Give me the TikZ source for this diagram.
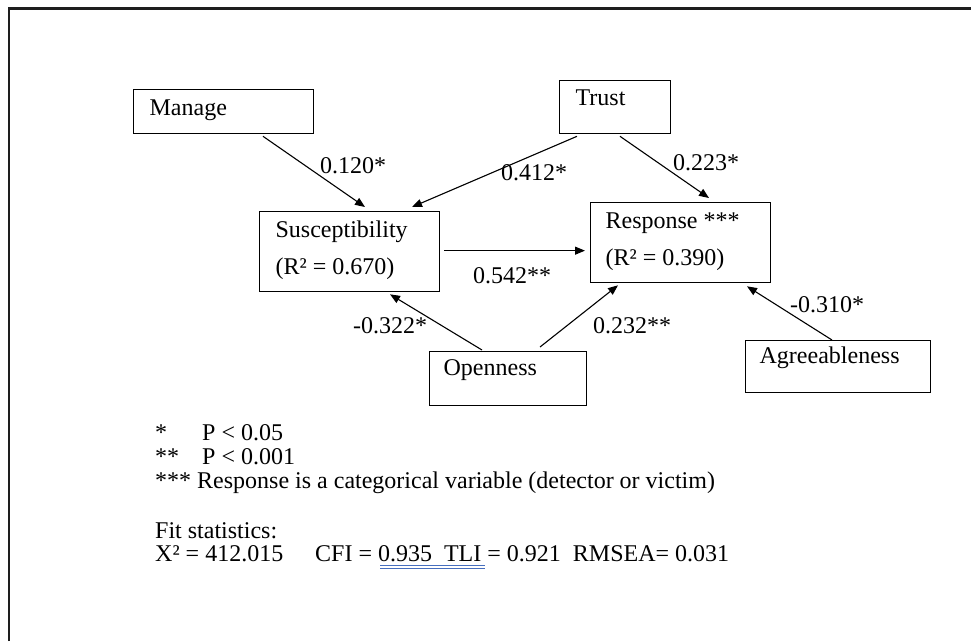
\documentclass[tikz,border=0pt]{standalone}
\usepackage{fontspec}
\setmainfont{Liberation Serif}
\usetikzlibrary{arrows.meta,calc}
\definecolor{framegray}{RGB}{30,30,30}
\definecolor{markblue}{RGB}{70,110,190}
\begin{document}
\begin{tikzpicture}[x=1pt,y=-1pt,
  every node/.style={font=\fontsize{24}{28}\selectfont, inner sep=0pt},
  var/.style={draw, line width=1.3pt, anchor=north west, align=flush left, inner ysep=0pt},
  link/.style={line width=1.1pt, -{Triangle[length=10pt,width=8pt]}},
  coef/.style={anchor=base west},
  note/.style={anchor=base west}]
\useasboundingbox[fill=white] (0,0) rectangle (971,641);
% page frame
\draw[line width=2.5pt, framegray] (9,641) -- (9,8.5) -- (971,8.5);

% variables
\node[var, inner xsep=16pt, text width=148pt, text height=26pt, text depth=18pt] (manage) at (133,89) {Manage};
\node[var, inner xsep=16pt, text width=79pt, text height=25pt, text depth=28pt] (trust) at (559,80) {Trust};
\node[var, inner xsep=16pt, text width=148pt, text height=26pt, text depth=54pt] (susc) at (259,211) {Susceptibility\\[9pt](R² = 0.670)};
\node[var, inner xsep=15pt, text width=150pt, text height=26pt, text depth=54pt] (resp) at (590,202) {Response ***\\[9pt](R² = 0.390)};
\node[var, inner xsep=14pt, text width=129pt, text height=24pt, text depth=30pt] (open) at (429,351) {Openness};
\node[var, inner xsep=14pt, text width=157pt, text height=23pt, text depth=29pt] (agree) at (745,340) {Agreeableness};

% paths
\draw[link] ($(manage.south west)+(130,2)$) -- ($(susc.north west)+(106,-4)$);
\draw[link] ($(trust.south west)+(18,2)$) -- ($(susc.north west)+(153,-4)$);
\draw[link] ($(trust.south west)+(61,2)$) -- ($(resp.north west)+(119,-4)$);
\draw[link] ($(susc.east)+(4,-1)$) -- ($(resp.west)+(-5,8)$);
\draw[link] ($(open.north west)+(53,-1)$) -- ($(susc.south west)+(131,2)$);
\draw[link] ($(open.north west)+(111,-4)$) -- ($(resp.south west)+(28,2)$);
\draw[link] ($(agree.north west)+(87,0)$) -- ($(resp.south west)+(157,3)$);

% path coefficients
\node[coef] (c1) at (320,173) {0.120*};
\node[coef] (c2) at (501,180) {0.412*};
\node[coef] (c3) at (673,170) {0.223*};
\node[coef] (c4) at (473,283) {0.542**};
\node[coef] (c5) at (353,333) {-0.322*};
\node[coef] (c6) at (593,333) {0.232**};
\node[coef] (c7) at (790,312) {-0.310*};

% notes
\node[note] (s1) at (155,440) {*};
\node[note] (p1) at (202,440) {P < 0.05};
\node[note] (s2) at (155,464) {**};
\node[note] (p2) at (202,464) {P < 0.001};
\node[note] (s3) at (155,488) {*** Response is a categorical variable (detector or victim)};
\node[note] (fit) at (155,538) {Fit statistics:};
\node[note] (chi) at (155,561) {X² = 412.015};
\node[note] (idx) at (315,561) {CFI = 0.935\ \ TLI = 0.921\ \ RMSEA= 0.031};
% proofing underline
\draw[markblue, line width=0.9pt] (380,565) -- (485,565);
\draw[markblue, line width=0.9pt] (380,568) -- (485,568);
\end{tikzpicture}
\end{document}
